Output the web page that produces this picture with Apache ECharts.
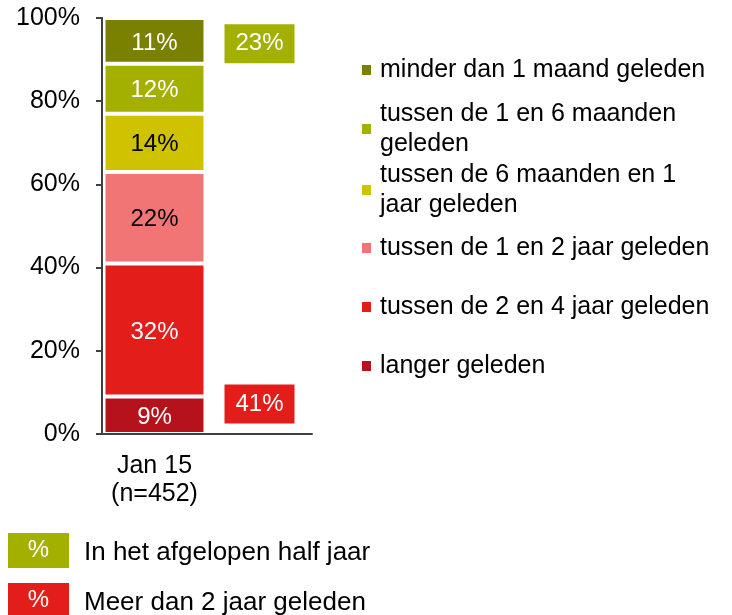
<!DOCTYPE html>
<html><head><meta charset="utf-8">
<script src="https://cdn.jsdelivr.net/npm/echarts@6/dist/echarts.min.js"></script>
<style>html,body{margin:0;padding:0;background:#fff}#c{width:732px;height:615px}</style>
</head><body><div id="c"></div>
<script>
// ---- data ----
const categories = ['Jan 15\n(n=452)', ''];
const seriesNames = [
  'langer geleden',
  'tussen de 2 en 4 jaar geleden',
  'tussen de 1 en 2 jaar geleden',
  'tussen de 6 maanden en 1 jaar geleden',
  'tussen de 1 en 6 maanden geleden',
  'minder dan 1 maand geleden'
];
const legendTexts = [
  'langer geleden',
  'tussen de 2 en 4 jaar geleden',
  'tussen de 1 en 2 jaar geleden',
  'tussen de 6 maanden en 1\njaar geleden',
  'tussen de 1 en 6 maanden\ngeleden',
  'minder dan 1 maand geleden'
];
const values = [9, 32, 22, 14, 12, 11];
const summaryValues = [23, 41];
const summaryNames = ['In het afgelopen half jaar', 'Meer dan 2 jaar geleden'];
const yTickValues = [0, 20, 40, 60, 80, 100];

// ---- styles ----
const FONT = "'Liberation Sans', Arial, sans-serif";
const colors = ['#b5121b', '#e31d1a', '#f27575', '#cfc300', '#a4b000', '#7a8000'];
const labelColors = ['#fff', '#fff', '#000', '#000', '#fff', '#fff'];
const summaryColors = ['#a4b000', '#e31d1a'];
const summaryY = [93.8, 7.2];
const legendIconCenters = [366, 307, 248, 190, 129, 70];

const series = seriesNames.map((n, i) => ({
  name: n,
  type: 'bar',
  stack: 'total',
  barWidth: 102,
  data: [values[i], '-'],
  itemStyle: { color: colors[i], borderColor: '#fff', borderWidth: 2 },
  label: {
    show: true, position: 'inside', formatter: '{c}%', offset: [0, 2],
    color: labelColors[i], fontSize: 24, fontFamily: FONT
  },
  emphasis: { disabled: true }
}));

series.push({
  type: 'scatter',
  symbol: 'rect',
  symbolSize: [70, 39],
  data: summaryValues.map((v, i) => ({
    value: [1, summaryY[i], v],
    itemStyle: { color: summaryColors[i], opacity: 1 }
  })),
  itemStyle: { opacity: 1 },
  label: {
    show: true, position: 'inside',
    formatter: p => p.value[2] + '%',
    color: '#fff', fontSize: 24, fontFamily: FONT
  },
  emphasis: { disabled: true },
  z: 5
});

const legends = seriesNames.map((n, i) => {
  const txt = legendTexts[i];
  const two = txt.indexOf('\n') >= 0;
  const c = legendIconCenters[i];
  return {
    data: [n],
    left: 362,
    top: two ? c - 45 : c - 15,
    padding: 0,
    itemWidth: 9,
    itemHeight: 10,
    icon: 'rect',
    itemStyle: { borderWidth: 0 },
    selectedMode: false,
    formatter: () => txt,
    textStyle: {
      fontSize: 25, fontFamily: FONT, color: '#000', lineHeight: 30,
      padding: two ? [30, 0, 0, 4] : [0, 0, 0, 4]
    }
  };
});

const graphics = [];
summaryNames.forEach((name, i) => {
  const y0 = 533 + i * 50;
  graphics.push({ type: 'rect', x: 8, y: y0, shape: { x: 0, y: 0, width: 61, height: 35 }, style: { fill: summaryColors[i] } });
  graphics.push({ type: 'text', x: 38.5, y: y0 + 17.5, style: { text: '%', fill: '#fff', font: '24px ' + FONT, align: 'center', verticalAlign: 'middle' } });
  graphics.push({ type: 'text', x: 84, y: y0 + 20, style: { text: name, fill: '#000', font: '26px ' + FONT, align: 'left', verticalAlign: 'middle' } });
});

const chart = echarts.init(document.getElementById('c'), null, { renderer: 'canvas' });
chart.setOption({
  animation: false,
  backgroundColor: '#fff',
  grid: { left: 102, top: 18, right: 420, bottom: 181, containLabel: false },
  legend: legends,
  xAxis: {
    type: 'category',
    data: categories,
    z: 10,
    axisLine: { show: true, lineStyle: { color: '#404040', width: 2 } },
    axisTick: { show: false },
    axisLabel: { color: '#000', fontSize: 25, fontFamily: FONT, lineHeight: 28, margin: 18, interval: 0 }
  },
  yAxis: {
    type: 'value',
    min: yTickValues[0], max: yTickValues[yTickValues.length - 1], interval: 20,
    z: 10,
    axisLine: { show: true, lineStyle: { color: '#404040', width: 2 } },
    axisTick: { show: true, length: 6, lineStyle: { color: '#404040', width: 2 } },
    splitLine: { show: false },
    axisLabel: { formatter: '{value}%', color: '#000', fontSize: 25, fontFamily: FONT, margin: 22 }
  },
  series: series,
  graphic: graphics
});
</script></body></html>
